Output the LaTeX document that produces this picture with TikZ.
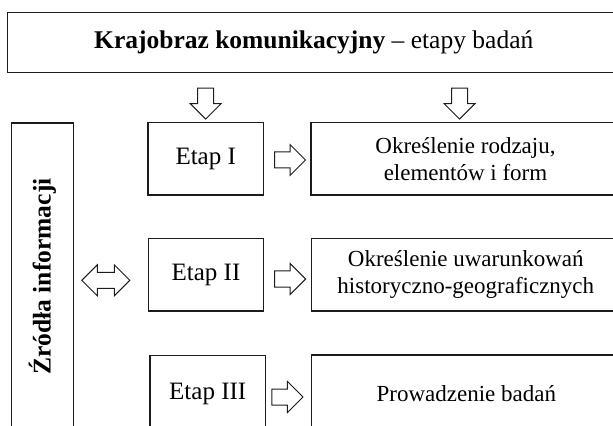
\documentclass[tikz,border=0pt]{standalone}
\usepackage{fontspec}
\setmainfont{Liberation Serif}
\usepackage{tikz}
\usetikzlibrary{calc,shapes.arrows}
\definecolor{ink}{HTML}{1C1C1C}
\tikzset{
  titlebox/.style={draw=ink, line width=0.7pt, inner sep=0pt, minimum width=306.25pt, minimum height=30pt, font=\fontsize{12.75}{15}\selectfont},
  sourcebox/.style={draw=ink, line width=0.6pt, inner sep=0pt, minimum width=153.5pt, minimum height=30.8pt, font=\fontsize{12.75}{15}\selectfont\bfseries},
  stagebox/.style={draw=ink, line width=0.6pt, inner sep=0pt, minimum width=57.65pt, minimum height=36.35pt, font=\fontsize{12.5}{15}\selectfont},
  descbox/.style={draw=ink, line width=0.6pt, inner sep=0pt, align=center, minimum width=154.5pt, minimum height=36.35pt, font=\fontsize{11.5}{13.5}\selectfont},
  fatarrow/.style={single arrow, draw=ink, line width=0.5pt, inner xsep=0pt, inner ysep=3.75pt, minimum height=15.5pt, minimum width=15pt, single arrow head extend=3.75pt, single arrow tip angle=90},
  twinarrow/.style={double arrow, draw=ink, line width=0.5pt, inner xsep=0pt, inner ysep=3.75pt, minimum height=24pt, minimum width=15pt, double arrow head extend=3.75pt, double arrow tip angle=90},
}

\begin{document}
\begin{tikzpicture}[x=0.5pt, y=-0.5pt]
  \clip (0,0) rectangle (613,426);
  % boxes
  \node[titlebox] (title) at (313.75,42.7) {\textbf{Krajobraz komunikacyjny} – etapy badań};
  \node[sourcebox, rotate=90] (sources) at (42.5,276.5) {Źródła informacji};
  \node[stagebox] (etap1) at (205.7,158.7) {Etap I};
  \node[stagebox] (etap2) at (206,274.6) {Etap II};
  \node[stagebox, minimum height=38.7pt] (etap3) at (207.7,394) {Etap III};
  \node[descbox] (desc1) at (465.5,158.7) {Określenie rodzaju,\\elementów i form};
  \node[descbox] (desc2) at (465.8,274.7) {Określenie uwarunkowań\\historyczno-geograficznych};
  \node[descbox, minimum height=39pt] (desc3) at (466.3,394) {Prowadzenie badań};
  % block arrows
  \node[fatarrow, rotate=-90, anchor=tip] (down1) at ([yshift=1pt]etap1.north) {};
  \node[fatarrow, rotate=-90, anchor=tip] (down2) at ([xshift=-3pt,yshift=1pt]desc1.north) {};
  \node[fatarrow] (right1) at ($(etap1.east)!0.5!(desc1.west)+(-1.15,1.3)$) {};
  \node[fatarrow] (right2) at ($(etap2.east)!0.5!(desc2.west)+(-1.3,4.35)$) {};
  \node[fatarrow] (right3) at ($(etap3.east)!0.5!(desc3.west)+(-5.1,3)$) {};
  \node[twinarrow] (link) at ($(sources.south)!0.5!(etap2.west)+(-5,4.75)$) {};
\end{tikzpicture}
\end{document}
